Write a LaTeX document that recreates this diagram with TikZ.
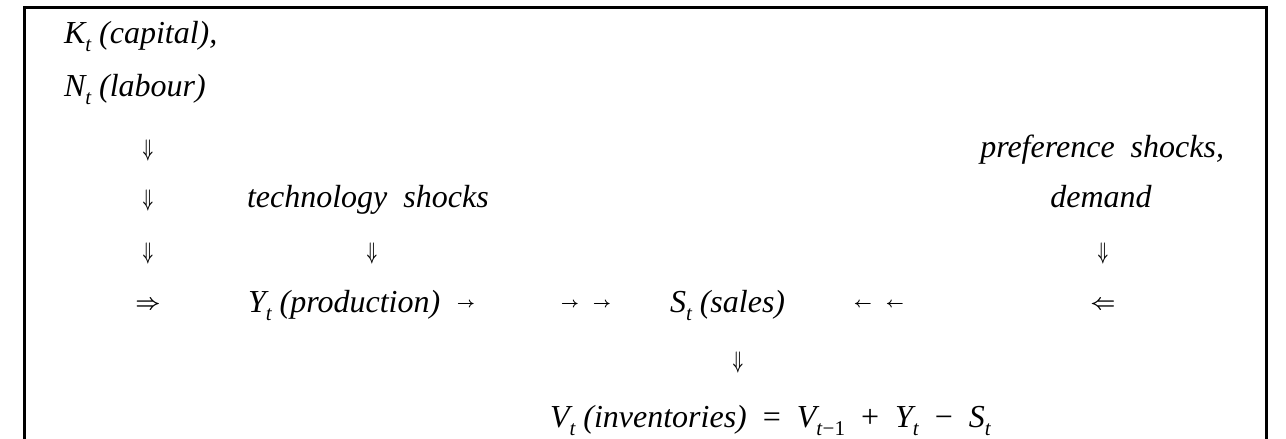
\documentclass[tikz,border=0pt]{standalone}
\usepackage{fontspec}
\setmainfont{Liberation Serif}
\usepackage{graphicx}
\newcommand{\tsub}[1]{\raisebox{-0.6ex}{\fontsize{10.5}{10.5}\selectfont\itshape #1}}
\newcommand{\dnarrow}{{\fontsize{13}{13}\selectfont\scalebox{0.6}[1]{\boldmath$\Downarrow$}}}
\newcommand{\smright}{{\fontsize{7.5}{7.5}\selectfont\boldmath$\rightarrow$}}
\newcommand{\smleft}{{\fontsize{7.5}{7.5}\selectfont\boldmath$\leftarrow$}}
\newcommand{\dbright}{{\fontsize{10.5}{10.5}\selectfont\boldmath$\Rightarrow$}}
\newcommand{\dbleft}{{\fontsize{10.5}{10.5}\selectfont\boldmath$\Leftarrow$}}
\begin{document}
\begin{tikzpicture}[x=0.5pt,y=-0.5pt,
  lbl/.style={inner sep=0pt, outer sep=0pt, font=\fontsize{16}{18}\selectfont\itshape},
  glyph/.style={inner sep=0pt, outer sep=0pt},
  frame/.style={line width=1.5pt}]
\useasboundingbox (0,0) rectangle (1286,439);
\draw[frame] (24,439) -- (24,7) -- (1266,7) -- (1266,439);
% left column
\node[lbl, anchor=base west] (K) at (64,43) {K\tsub{t} (capital),};
\node[lbl, anchor=base west] (N) at (64,96) {N\tsub{t} (labour)};
\node[glyph] (d1) at (148,150) {\dnarrow};
\node[glyph] (d2) at (148,200) {\dnarrow};
\node[glyph] (d3) at (148,253) {\dnarrow};
\node[glyph] (r1) at (148,305) {\dbright};
% technology
\node[lbl, anchor=base west] (tech) at (247,207) {technology\ \ shocks};
\node[glyph] (d4) at (372,253) {\dnarrow};
% preference
\node[lbl, anchor=base east] (pref) at (1224,157) {preference\ \ shocks,};
\node[lbl, anchor=base] (dem) at (1101,207) {demand};
\node[glyph] (d5) at (1103,253) {\dnarrow};
\node[glyph] (l1) at (1103,305) {\dbleft};
% main row
\node[lbl, anchor=base west] (Y) at (248,312) {Y\tsub{t} (production)};
\node[glyph] (a1) at (466,305) {\smright};
\node[glyph] (a2) at (570,305) {\smright};
\node[glyph] (a3) at (602,305) {\smright};
\node[lbl, anchor=base west] (S) at (670,312) {S\tsub{t} (sales)};
\node[glyph] (a4) at (863,305) {\smleft};
\node[glyph] (a5) at (895,305) {\smleft};
\node[glyph] (d6) at (738,362) {\dnarrow};
% inventories
\node[lbl, anchor=base west] (V) at (550,427) {V\tsub{t} (inventories)\ \ \textup{=}\ \ V\tsub{t\textup{−1}}\ \ \textup{+}\ \ Y\tsub{t}\ \ \textup{−}\ \ S\tsub{t}};
\end{tikzpicture}
\end{document}
